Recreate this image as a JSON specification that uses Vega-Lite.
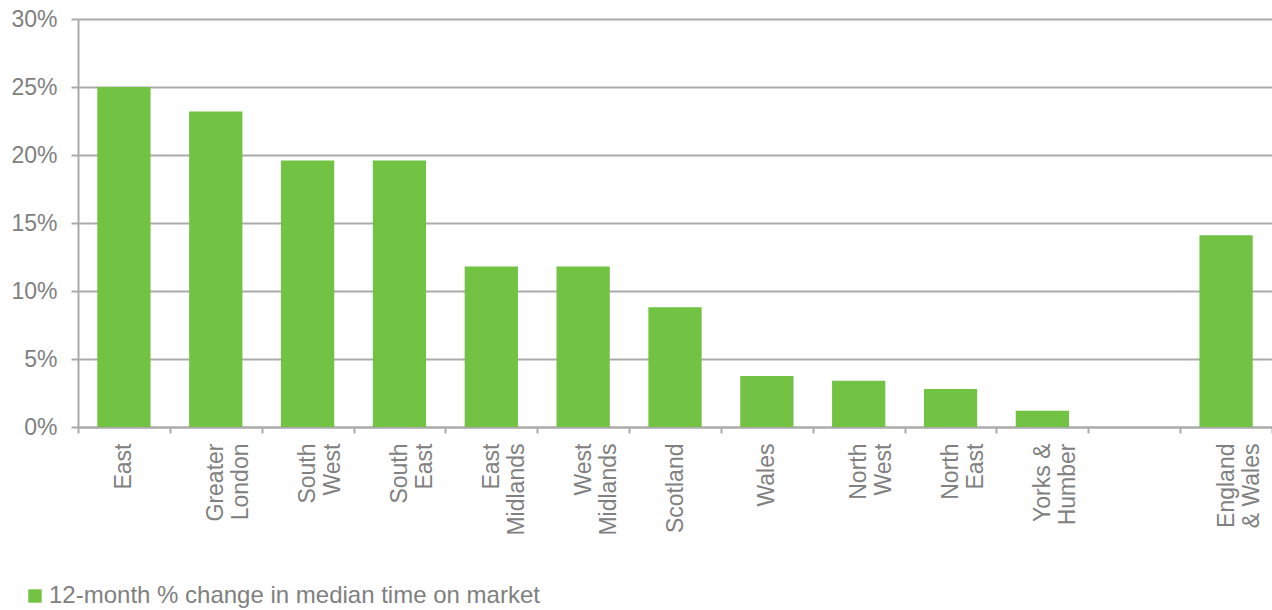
{
  "$schema": "https://vega.github.io/schema/vega-lite/v6.json",
  "width": 1194,
  "height": 408,
  "autosize": {"type": "none"},
  "padding": {"left": 78, "top": 19, "right": 0, "bottom": 183},
  "background": "white",
  "data": {
    "values": [
      {"region": "East", "change": 25.0, "series": "12-month % change in median time on market"},
      {"region": "Greater London", "change": 23.2, "series": "12-month % change in median time on market"},
      {"region": "South West", "change": 19.6, "series": "12-month % change in median time on market"},
      {"region": "South East", "change": 19.6, "series": "12-month % change in median time on market"},
      {"region": "East Midlands", "change": 11.8, "series": "12-month % change in median time on market"},
      {"region": "West Midlands", "change": 11.8, "series": "12-month % change in median time on market"},
      {"region": "Scotland", "change": 8.8, "series": "12-month % change in median time on market"},
      {"region": "Wales", "change": 3.75, "series": "12-month % change in median time on market"},
      {"region": "North West", "change": 3.4, "series": "12-month % change in median time on market"},
      {"region": "North East", "change": 2.8, "series": "12-month % change in median time on market"},
      {"region": "Yorks & Humber", "change": 1.2, "series": "12-month % change in median time on market"},
      {"region": "England & Wales", "change": 14.1, "series": "12-month % change in median time on market"}
    ]
  },
  "mark": {"type": "bar", "width": {"band": 0.58}},
  "encoding": {
    "x": {
      "field": "region",
      "type": "nominal",
      "sort": null,
      "scale": {
        "domain": ["East", "Greater London", "South West", "South East", "East Midlands", "West Midlands", "Scotland", "Wales", "North West", "North East", "Yorks & Humber", " ", "England & Wales"],
        "paddingInner": 0,
        "paddingOuter": 0
      },
      "axis": {
        "title": null,
        "labelAngle": 270,
        "labelAlign": "right",
        "labelBaseline": "middle",
        "labelPadding": 10,
        "tickSize": 6,
        "tickBand": "extent",
        "grid": false,
        "domainColor": "#aaaaaa",
        "domainWidth": 2,
        "tickColor": "#aaaaaa",
        "tickWidth": 2,
        "labelColor": "#808080",
        "labelFont": "Liberation Sans",
        "labelFontSize": 23,
        "labelLineHeight": 25,
        "labelLimit": 300,
        "labelExpr": "!isString(datum.value) ? '' : datum.value == 'Yorks & Humber' ? ['Yorks &', 'Humber'] : datum.value == 'England & Wales' ? ['England', '& Wales'] : split(datum.value, ' ')"
      }
    },
    "y": {
      "field": "change",
      "type": "quantitative",
      "scale": {"domain": [0, 30], "nice": false},
      "axis": {
        "title": null,
        "values": [0, 5, 10, 15, 20, 25, 30],
        "labelExpr": "datum.value + '%'",
        "grid": true,
        "gridColor": "#aaaaaa",
        "gridWidth": 2,
        "domainColor": "#aaaaaa",
        "domainWidth": 2,
        "tickSize": 7,
        "tickColor": "#aaaaaa",
        "tickWidth": 2,
        "labelPadding": 14,
        "labelColor": "#808080",
        "labelFont": "Liberation Sans",
        "labelFontSize": 23
      }
    },
    "color": {
      "field": "series",
      "type": "nominal",
      "scale": {"range": ["#72c244"]},
      "legend": {
        "title": null,
        "orient": "none",
        "legendX": -55,
        "legendY": 565,
        "symbolType": "square",
        "symbolSize": 180,
        "symbolStrokeWidth": 0,
        "labelFont": "Liberation Sans",
        "labelFontSize": 24,
        "labelColor": "#808080",
        "labelOffset": 2,
        "labelLimit": 800,
        "padding": 0
      }
    }
  },
  "config": {"view": {"stroke": null}, "font": "Liberation Sans"}
}
